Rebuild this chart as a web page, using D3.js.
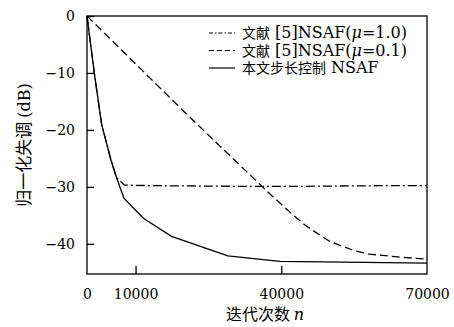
<!DOCTYPE html>
<html>
<head>
<meta charset="utf-8">
<script src="https://cdn.jsdelivr.net/npm/d3@7"></script>
<style>
  body { margin: 0; background: #fff; }
  svg { font-family: "DejaVu Serif", "Noto Sans CJK SC", serif; }
</style>
</head>
<body>
<svg id="chart" width="454" height="327"></svg>
<script>
// series: [iterations, misadjustment dB]
const nsafMu10 = [[0, 0], [1500, -10], [3000, -19], [5000, -25.5], [6100, -28.4], [7700, -29.7],
  [15000, -29.8], [30000, -29.9], [45000, -29.9], [60000, -29.8], [70000, -29.8]];
const nsafMu01 = [[0, 0], [10000, -8.4], [20000, -16.8], [30000, -25], [38000, -31.5], [42000, -34.6],
  [45000, -36.8], [50000, -39.6], [55000, -41.2], [58000, -41.8], [64000, -42.3], [70000, -42.7]];
const proposed = [[0, 0], [1500, -10], [3000, -19], [5000, -25.5], [6100, -28.4], [7600, -32],
  [11600, -35.5], [17400, -38.7], [29000, -42.1], [39700, -43.1], [70000, -43.4]];

// legend labels split into the Chinese part and the Latin part
const legendCjk = ['文献', '文献', '本文步长控制'];
const legendLatin = [['[5]NSAF(', 'μ', '=1.0)'], ['[5]NSAF(', 'μ', '=0.1)'], ['NSAF']];
const xTicks = [0, 10000, 40000, 70000];
const yTicks = [0, -10, -20, -30, -40];

const margin = { top: 16, right: 27, bottom: 53, left: 87 };
const width = 454 - margin.left - margin.right;
const height = 327 - margin.top - margin.bottom;

const svg = d3.select('#chart')
  .append('g')
  .attr('transform', `translate(${margin.left},${margin.top})`);

const x = d3.scaleLinear().domain([0, 70000]).range([0, width]);
const y = d3.scaleLinear().domain([-45.3, 0]).range([height, 0]);

// frame
svg.append('rect')
  .attr('width', width).attr('height', height)
  .attr('fill', 'none').attr('stroke', '#000').attr('stroke-width', 1.3);

// y axis, ticks point inward
const yAxis = svg.append('g')
  .call(d3.axisLeft(y).tickValues(yTicks).tickSize(-7).tickPadding(12)
    .tickFormat(d => d === 0 ? '0' : '\u2212' + Math.abs(d)));
yAxis.select('.domain').remove();
yAxis.selectAll('line').attr('stroke-width', 1.3);
yAxis.selectAll('text').attr('font-size', 14).attr('font-family', 'DejaVu Serif').attr('fill', '#000');

// x axis
const xAxis = svg.append('g')
  .attr('transform', `translate(0,${height})`)
  .call(d3.axisBottom(x).tickValues(xTicks).tickSize(-8).tickPadding(15).tickFormat(d3.format('d')));
xAxis.select('.domain').remove();
xAxis.selectAll('line').attr('stroke-width', 1.3)
  .attr('display', d => (d === 0 || d === 70000) ? 'none' : null);
xAxis.selectAll('text').attr('font-size', 14).attr('font-family', 'DejaVu Serif').attr('fill', '#000');

const line = d3.line().x(d => x(d[0])).y(d => y(d[1]));

const styles = [
  { data: nsafMu10, dash: '9,3,2,3' },
  { data: nsafMu01, dash: '8,4' },
  { data: proposed, dash: null }
];

styles.forEach(s => {
  svg.append('path')
    .datum(s.data)
    .attr('d', line)
    .attr('fill', 'none')
    .attr('stroke', '#000')
    .attr('stroke-width', 1.3)
    .attr('stroke-dasharray', s.dash);
});

// legend
const legend = svg.append('g').attr('transform', 'translate(122,17)');
legendCjk.forEach((label, i) => {
  const g = legend.append('g').attr('transform', `translate(0,${i * 17.5})`);
  g.append('line')
    .attr('x1', 0).attr('x2', 26).attr('y1', 0).attr('y2', 0)
    .attr('stroke', '#000').attr('stroke-width', 1.2)
    .attr('stroke-dasharray', i === 0 ? '4,2,1.5,2' : (i === 1 ? '5,3' : null));
  const c = g.append('text')
    .attr('x', 33).attr('y', 5)
    .attr('font-family', 'Noto Sans CJK SC')
    .attr('font-size', 14)
    .text(label);
  const w = c.node().getComputedTextLength();
  const t = g.append('text')
    .attr('x', 33 + w + 5).attr('y', 5)
    .attr('font-size', 16);
  legendLatin[i].forEach((part, k) => {
    t.append('tspan').attr('font-style', k === 1 ? 'italic' : null).text(part);
  });
});

// axis titles
const xt = svg.append('text')
  .attr('x', 178).attr('y', height + 46)
  .attr('text-anchor', 'middle')
  .attr('font-size', 16);
xt.append('tspan').attr('font-family', 'Noto Sans CJK SC').text('迭代次数 ');
xt.append('tspan').attr('font-style', 'italic').text('n');

const yt = svg.append('text')
  .attr('transform', `translate(-57,${height / 2}) rotate(-90)`)
  .attr('text-anchor', 'middle')
  .attr('font-size', 16);
yt.append('tspan').attr('font-family', 'Noto Sans CJK SC').attr('font-size', 17).text('归一化失调 ');
yt.append('tspan').text('(dB)');
</script>
</body>
</html>
